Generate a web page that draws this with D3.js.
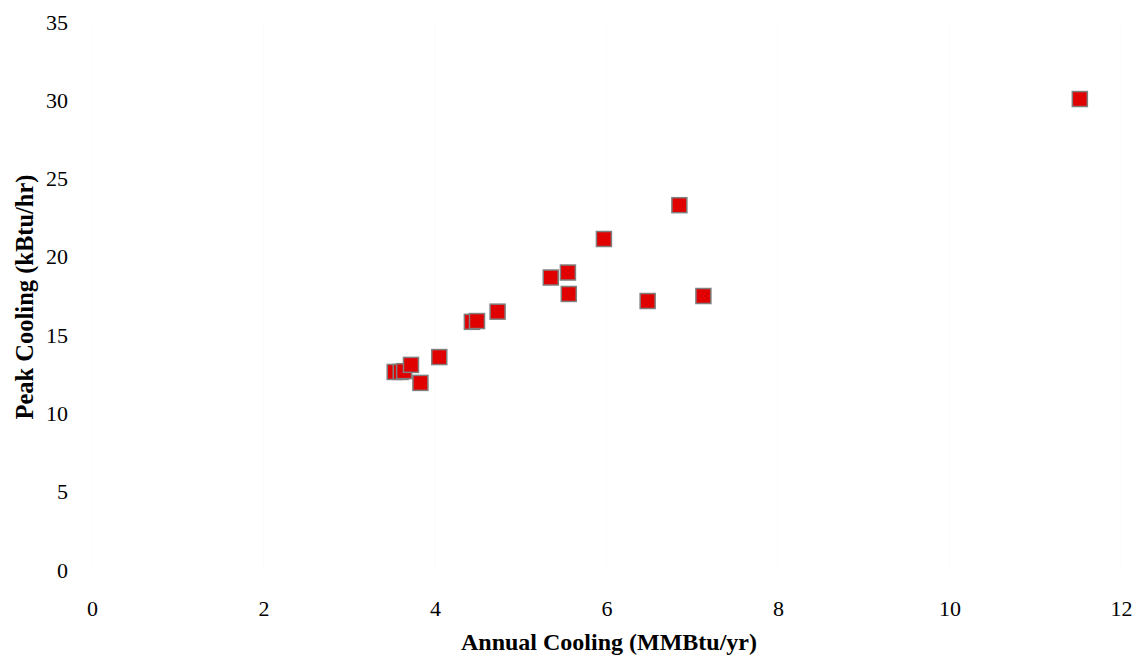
<!DOCTYPE html>
<html>
<head>
<meta charset="utf-8">
<script src="https://cdn.jsdelivr.net/npm/d3@7"></script>
<style>
  html, body { margin: 0; padding: 0; background: #fff; }
  svg { display: block; }
</style>
</head>
<body>
<svg id="chart" width="1140" height="659"></svg>
<script>
const annualCooling = [3.53, 3.60, 3.64, 3.72, 3.83, 4.05, 4.43, 4.49, 4.73, 5.35, 5.55, 5.56, 5.97, 6.48, 6.85, 7.13, 11.52];
const peakCooling   = [12.65, 12.65, 12.7, 13.1, 11.95, 13.6, 15.85, 15.9, 16.5, 18.68, 19.0, 17.63, 21.14, 17.18, 23.3, 17.5, 30.08];
const xTicks = [0, 2, 4, 6, 8, 10, 12];
const yTicks = [0, 5, 10, 15, 20, 25, 30, 35];
const xTitle = "Annual Cooling (MMBtu/yr)";
const yTitle = "Peak Cooling (kBtu/hr)";

const W = 1140, H = 659;
const m = { left: 92, right: 19, top: 22, bottom: 89 };
const svg = d3.select("#chart");
const x = d3.scaleLinear().domain([0, 12]).range([m.left, W - m.right]);
const y = d3.scaleLinear().domain([0, 35]).range([H - m.bottom, m.top]);

const font = "'Liberation Serif', 'Times New Roman', serif";

// nearly invisible vertical gridlines, as in the reference
svg.append("g").selectAll("line").data(xTicks).join("line")
  .attr("x1", d => x(d)).attr("x2", d => x(d))
  .attr("y1", y(35)).attr("y2", y(0))
  .attr("stroke", "#fbfbfb").attr("stroke-width", 1);

const xAxis = svg.append("g")
  .attr("transform", `translate(0,${y(0)})`)
  .call(d3.axisBottom(x).tickValues(xTicks).tickSize(0).tickPadding(30).tickFormat(d3.format("d")));
xAxis.select(".domain").remove();
xAxis.selectAll("text").attr("font-family", font).attr("font-size", 22).attr("fill", "#000");

const yAxis = svg.append("g")
  .attr("transform", `translate(${m.left},0)`)
  .call(d3.axisLeft(y).tickValues(yTicks).tickSize(0).tickPadding(24).tickFormat(d3.format("d")));
yAxis.select(".domain").remove();
yAxis.selectAll("text").attr("font-family", font).attr("font-size", 22).attr("fill", "#000");

const pts = annualCooling.map((v, i) => ({ x: v, y: peakCooling[i] }));
const s = 15;
svg.append("g").selectAll("rect").data(pts).join("rect")
  .attr("x", d => x(d.x) - s / 2)
  .attr("y", d => y(d.y) - s / 2)
  .attr("width", s).attr("height", s)
  .attr("fill", "#e00000")
  .attr("stroke", "#7f7f7f").attr("stroke-width", 1.5);

svg.append("text")
  .attr("x", 609).attr("y", 650)
  .attr("text-anchor", "middle")
  .attr("font-family", font).attr("font-size", 24).attr("font-weight", "bold")
  .text(xTitle);

svg.append("text")
  .attr("transform", `translate(33,297) rotate(-90)`)
  .attr("text-anchor", "middle")
  .attr("font-family", font).attr("font-size", 24.5).attr("font-weight", "bold")
  .text(yTitle);
</script>
</body>
</html>
